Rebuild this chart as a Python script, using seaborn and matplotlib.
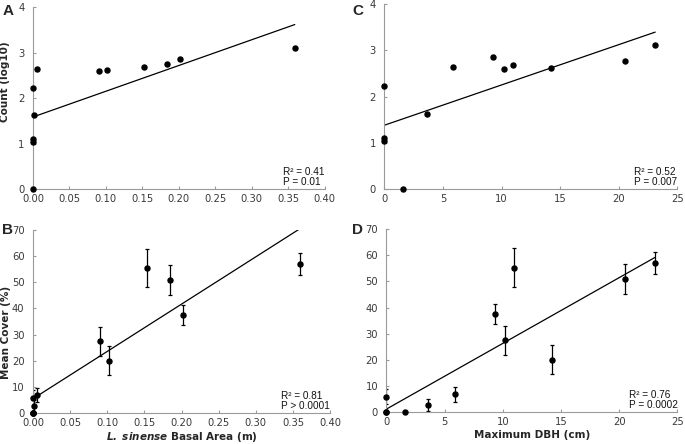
import numpy as np
import pandas as pd
import matplotlib
matplotlib.use("Agg")
import matplotlib.pyplot as plt
import seaborn as sns

# site values (same 12 sites in every panel)
basal_area = [0.0, 0.0, 0.0, 0.0, 0.001, 0.005, 0.090, 0.102, 0.153, 0.184, 0.202, 0.359]
max_dbh = [0.0, 0.0, 0.0, 1.6, 3.6, 5.9, 10.2, 14.2, 11.0, 20.5, 9.3, 23.1]
log_count = [1.03, 1.10, 2.22, 0.0, 1.63, 2.63, 2.59, 2.61, 2.68, 2.76, 2.86, 3.11]
mean_cover = [0.0, 0.0, 5.9, 0.0, 2.7, 6.8, 27.4, 20.0, 55.3, 50.8, 37.5, 57.0]
cover_err = [0.0, 0.0, 3.0, 0.0, 2.3, 2.8, 5.5, 5.5, 7.3, 5.7, 3.8, 4.3]

stats_a = "R² = 0.41\nP = 0.01"
stats_b = "R² = 0.81\nP > 0.0001"
stats_c = "R² = 0.52\nP = 0.007"
stats_d = "R² = 0.76\nP = 0.0002"

df = pd.DataFrame({"ba": basal_area, "dbh": max_dbh, "count": log_count,
                   "cover": mean_cover, "err": cover_err})

sns.set_style("ticks")
plt.rcParams["font.family"] = ["DejaVu Sans"]

fig = plt.figure(figsize=(6.85, 4.44), dpi=100)
ax_a = fig.add_axes([0.048, 0.574, 0.426, 0.410])
ax_c = fig.add_axes([0.561, 0.574, 0.428, 0.417])
ax_b = fig.add_axes([0.048, 0.070, 0.434, 0.412])
ax_d = fig.add_axes([0.564, 0.072, 0.425, 0.412])

def style(ax, xlim, xticks, ylim, yticks, fmt):
    ax.set_xlim(*xlim)
    ax.set_ylim(*ylim)
    ax.set_xticks(xticks)
    ax.set_yticks(yticks)
    ax.set_xticklabels([fmt.format(v) for v in xticks])
    for s in ["top", "right"]:
        ax.spines[s].set_visible(False)
    for s in ["left", "bottom"]:
        ax.spines[s].set_color("#9a9a9a")
        ax.spines[s].set_linewidth(0.8)
    ax.tick_params(labelsize=7.2, colors="#9a9a9a", labelcolor="#3a3a3a",
                   direction="in", length=2.5, width=0.8)
    ax.tick_params(axis="x", pad=3.5)
    ax.tick_params(axis="y", pad=6)
    ax.set_xlabel("")
    ax.set_ylabel("")

def draw(ax, x, y, err=False):
    sns.regplot(data=df, x=x, y=y, ax=ax, ci=None, truncate=True,
                scatter_kws={"s": 13, "color": "black", "alpha": 1,
                             "clip_on": False, "zorder": 3},
                line_kws={"color": "black", "lw": 0.9})
    if err:
        ax.errorbar(df[x], df[y], yerr=df["err"], fmt="none", ecolor="black",
                    elinewidth=0.9, capsize=1.5, capthick=0.9, zorder=2)

draw(ax_a, "ba", "count")
draw(ax_c, "dbh", "count")
draw(ax_b, "ba", "cover", err=True)
draw(ax_d, "dbh", "cover", err=True)

style(ax_a, (0, 0.40), np.arange(0, 0.41, 0.05), (0, 4), range(0, 5), "{:.2f}")
style(ax_c, (0, 25), range(0, 26, 5), (0, 4), range(0, 5), "{:.0f}")
style(ax_b, (0, 0.40), np.arange(0, 0.41, 0.05), (0, 70), range(0, 71, 10), "{:.2f}")
style(ax_d, (0, 25), range(0, 26, 5), (0, 70), range(0, 71, 10), "{:.0f}")

ax_a.set_ylabel("Count (log10)", fontsize=7.5, fontweight="bold")
ax_a.yaxis.set_label_coords(-0.077, 0.59)
ax_b.set_ylabel("Mean Cover (%)", fontsize=7.5, fontweight="bold")
ax_b.yaxis.set_label_coords(-0.075, 0.44)
ax_b.set_xlabel(r"$\mathbfit{L.\ sinense}$ Basal Area (m)", fontsize=7.5,
                fontweight="bold")
ax_b.xaxis.set_label_coords(0.5, -0.095)
ax_d.set_xlabel("Maximum DBH (cm)", fontsize=7.5, fontweight="bold")
ax_d.xaxis.set_label_coords(0.5, -0.1)

for ax, txt in [(ax_a, stats_a), (ax_b, stats_b), (ax_c, stats_c), (ax_d, stats_d)]:
    ax.text(1.0, 0.01, txt, transform=ax.transAxes, fontsize=7.2,
            ha="right", va="bottom", linespacing=1.05, color="#111111",
            multialignment="left", family=["Liberation Sans", "DejaVu Sans"])

for lbl, x, y in [("A", 0.004, 0.991), ("C", 0.514, 0.991),
                  ("B", 0.003, 0.497), ("D", 0.514, 0.497)]:
    fig.text(x, y, lbl, fontsize=11, fontweight="bold", ha="left", va="top",
             family=["Liberation Sans", "DejaVu Sans"])

fig.savefig("out.png", dpi=100)
